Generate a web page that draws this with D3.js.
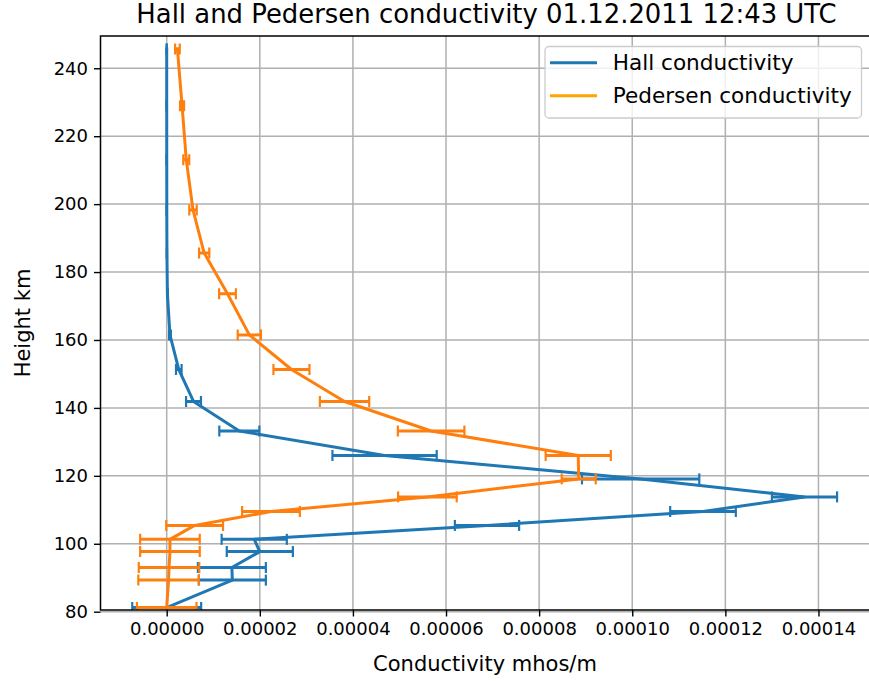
<!DOCTYPE html>
<html>
<head>
<meta charset="utf-8">
<script src="https://cdn.jsdelivr.net/npm/d3@7"></script>
<style>
  body { margin: 0; background: #ffffff; }
  svg { display: block; }
  text { font-family: "DejaVu Sans", sans-serif; fill: #000; }
</style>
</head>
<body>
<svg id="chart" width="869" height="684"></svg>
<script>
// Altitude of each sample (km)
const heights = [81.2, 89.3, 93.0, 97.7, 101.3, 105.4, 109.5, 113.8, 119.1, 126.0,
                 133.2, 141.9, 151.3, 161.5, 173.6, 185.6, 198.3, 213.1, 229.0, 245.7];

// Hall conductivity (mhos/m) and its uncertainty
const hallValues = [0, 1.41e-5, 1.40e-5, 2.00e-5, 1.88e-5, 6.88e-5, 11.52e-5, 13.70e-5, 10.18e-5, 4.68e-5,
                    1.56e-5, 0.576e-5, 0.26e-5, 0.07e-5, 0.015e-5, 0.005e-5, 0.002e-5, 0.001e-5, 0.0005e-5, 0.0003e-5];
const hallErrors = [0.74e-5, 0.72e-5, 0.73e-5, 0.71e-5, 0.70e-5, 0.69e-5, 0.705e-5, 0.70e-5, 1.26e-5, 1.12e-5,
                    0.43e-5, 0.16e-5, 0.06e-5, 0.02e-5, 0.005e-5, 0.002e-5, 0.001e-5, 0.0005e-5, 0.0003e-5, 0.0002e-5];

// Pedersen conductivity (mhos/m) and its uncertainty
const pedersenValues = [0, 0.04e-5, 0.05e-5, 0.07e-5, 0.07e-5, 0.60e-5, 2.24e-5, 5.60e-5, 8.85e-5, 8.84e-5,
                        5.68e-5, 3.82e-5, 2.68e-5, 1.775e-5, 1.306e-5, 0.805e-5, 0.565e-5, 0.42e-5, 0.33e-5, 0.23e-5];
const pedersenErrors = [0.64e-5, 0.65e-5, 0.65e-5, 0.64e-5, 0.64e-5, 0.61e-5, 0.62e-5, 0.63e-5, 0.365e-5, 0.70e-5,
                        0.715e-5, 0.53e-5, 0.387e-5, 0.25e-5, 0.18e-5, 0.11e-5, 0.08e-5, 0.064e-5, 0.043e-5, 0.05e-5];

const xTicks = [0, 0.00002, 0.00004, 0.00006, 0.00008, 0.00010, 0.00012, 0.00014];
const xTickLabels = ["0.00000", "0.00002", "0.00004", "0.00006", "0.00008", "0.00010", "0.00012", "0.00014"];
const yTicks = [80, 100, 120, 140, 160, 180, 200, 220, 240];

const seriesNames = ["Hall conductivity", "Pedersen conductivity"];
const seriesColors = ["#1f77b4", "#ff7f0e"];
const legendColors = ["#1f77b4", "orange"];

const titleText = "Hall and Pedersen conductivity 01.12.2011 12:43 UTC";
const xLabel = "Conductivity mhos/m";
const yLabel = "Height km";

// ---- layout ----
const plot = { left: 100.5, right: 872, top: 36, bottom: 610 };
const svg = d3.select("#chart");

const x = d3.scaleLinear().domain([-1.422e-5, 15.15e-5]).range([plot.left, plot.right]);
const y = d3.scaleLinear().domain([80.5, 249.5]).range([plot.bottom, plot.top]);

svg.append("defs").append("clipPath").attr("id", "plot-clip")
  .append("rect")
  .attr("x", plot.left).attr("y", plot.top)
  .attr("width", plot.right - plot.left).attr("height", plot.bottom - plot.top);

// grid
const grid = svg.append("g").attr("stroke", "#b0b0b0").attr("stroke-width", 1.5);
grid.selectAll("line.gx").data(xTicks).join("line").attr("class", "gx")
  .attr("x1", d => x(d)).attr("x2", d => x(d))
  .attr("y1", plot.top).attr("y2", plot.bottom);
grid.selectAll("line.gy").data(yTicks).join("line").attr("class", "gy")
  .attr("x1", plot.left).attr("x2", plot.right)
  .attr("y1", d => y(d)).attr("y2", d => y(d));

// series with horizontal error bars
const series = [
  { values: hallValues, errors: hallErrors, color: seriesColors[0] },
  { values: pedersenValues, errors: pedersenErrors, color: seriesColors[1] }
];

const marks = svg.append("g").attr("clip-path", "url(#plot-clip)");
const line = d3.line().x(d => x(d.v)).y(d => y(d.h));
const capHalf = 5.5;
const lineWidth = 3;

series.forEach(s => {
  const pts = heights.map((h, i) => ({ h, v: s.values[i], e: s.errors[i] }));
  const g = marks.append("g");
  g.append("path").datum(pts)
    .attr("d", line)
    .attr("fill", "none")
    .attr("stroke", s.color)
    .attr("stroke-width", lineWidth)
    .attr("stroke-linejoin", "round")
    .attr("stroke-linecap", "square");
  g.selectAll("line.err").data(pts).join("line").attr("class", "err")
    .attr("x1", d => x(d.v - d.e)).attr("x2", d => x(d.v + d.e))
    .attr("y1", d => y(d.h)).attr("y2", d => y(d.h))
    .attr("stroke", s.color).attr("stroke-width", lineWidth);
  g.selectAll("line.capl").data(pts).join("line").attr("class", "capl")
    .attr("x1", d => x(d.v - d.e)).attr("x2", d => x(d.v - d.e))
    .attr("y1", d => y(d.h) - capHalf).attr("y2", d => y(d.h) + capHalf)
    .attr("stroke", s.color).attr("stroke-width", 2.2);
  g.selectAll("line.capr").data(pts).join("line").attr("class", "capr")
    .attr("x1", d => x(d.v + d.e)).attr("x2", d => x(d.v + d.e))
    .attr("y1", d => y(d.h) - capHalf).attr("y2", d => y(d.h) + capHalf)
    .attr("stroke", s.color).attr("stroke-width", 2.2);
});

// axes
const tickFont = 18;
const labelFont = 21;
const xAxis = d3.axisBottom(x).tickValues(xTicks)
  .tickFormat((d, i) => xTickLabels[i]).tickSize(6.5).tickPadding(6);
const yAxis = d3.axisLeft(y).tickValues(yTicks).tickFormat(d3.format("d"))
  .tickSize(6.5).tickPadding(6);

const gx = svg.append("g").attr("transform", `translate(0,${plot.bottom})`).call(xAxis);
const gy = svg.append("g").attr("transform", `translate(${plot.left},0)`).call(yAxis);
[gx, gy].forEach(g => {
  g.select(".domain").remove();
  g.selectAll(".tick line").attr("stroke", "#000").attr("stroke-width", 1.4);
  g.selectAll(".tick text").attr("font-size", tickFont)
    .attr("font-family", "DejaVu Sans").attr("fill", "#000");
});

// spines
svg.append("rect")
  .attr("x", plot.left).attr("y", plot.top)
  .attr("width", plot.right - plot.left).attr("height", plot.bottom - plot.top)
  .attr("fill", "none").attr("stroke", "#000").attr("stroke-width", 1.5);

// labels
svg.append("text")
  .attr("x", 486.5).attr("y", 23)
  .attr("text-anchor", "middle").attr("font-size", 25.9)
  .text(titleText);
svg.append("text")
  .attr("x", 485).attr("y", 671)
  .attr("text-anchor", "middle").attr("font-size", labelFont)
  .text(xLabel);
svg.append("text")
  .attr("transform", `translate(30,${(plot.top + plot.bottom) / 2}) rotate(-90)`)
  .attr("text-anchor", "middle").attr("font-size", labelFont)
  .text(yLabel);

// legend
const legend = svg.append("g");
legend.append("rect")
  .attr("x", 545).attr("y", 46.5).attr("width", 316.5).attr("height", 71.5)
  .attr("rx", 4).attr("fill", "#fff").attr("fill-opacity", 0.8)
  .attr("stroke", "#cccccc").attr("stroke-width", 1.3);
const legendRows = legend.selectAll("g.row").data(seriesNames).join("g")
  .attr("class", "row")
  .attr("transform", (d, i) => `translate(0,${62.7 + i * 33})`);
legendRows.append("line")
  .attr("x1", 550).attr("x2", 597).attr("y1", 0).attr("y2", 0)
  .attr("stroke", (d, i) => legendColors[i]).attr("stroke-width", 3);
legendRows.append("text")
  .attr("x", 612.7).attr("y", 7.5)
  .attr("font-size", 21.6)
  .text(d => d);
</script>
</body>
</html>
